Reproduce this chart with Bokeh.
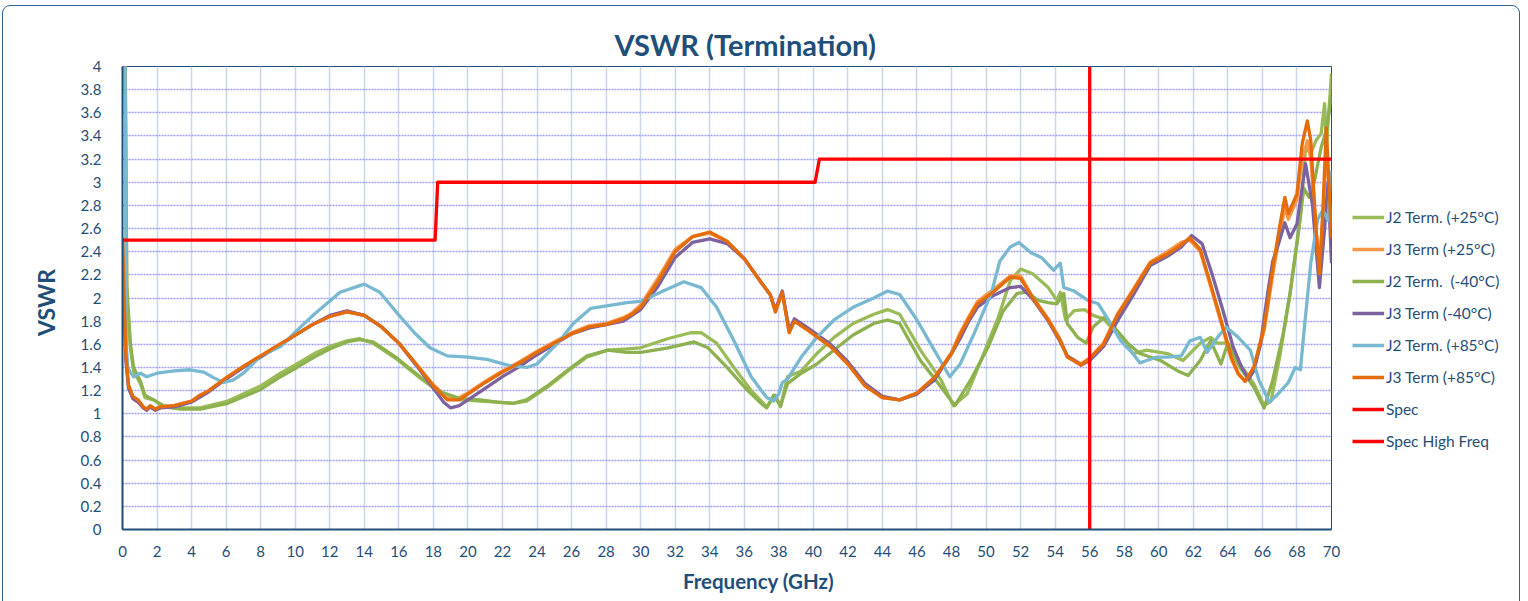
import math
from bokeh.plotting import figure
from bokeh.layouts import row, column
from bokeh.models import (Legend, LegendItem, FixedTicker, NumeralTickFormatter,
                          Range1d, Label)
from bokeh.embed import file_html
from bokeh.resources import INLINE

# ---------------- data ----------------
OR_F = [0, 0.1, 0.2, 0.35, 0.6, 0.9, 1.2, 1.4, 1.6, 1.9,
        2.2, 3, 4, 4.5, 5, 6, 7, 8, 9, 10,
        11, 12, 13, 14, 15, 16, 17, 18, 18.8, 19.5,
        20, 21, 22, 23, 24, 25, 26, 27, 28, 29,
        29.5, 30, 31, 32, 33, 34, 35, 36, 37, 37.5,
        37.8, 38.2, 38.6, 38.9, 39.7, 41, 42, 43, 44, 45,
        46, 47, 48, 48.5, 49, 49.5, 50.4, 51.4, 52, 52.7,
        53.6, 54.3, 54.7, 55.5, 56, 56.8, 57.6, 58.5, 59.5, 60.5,
        61.3, 61.8, 62.4, 63, 63.6, 64.2, 64.6, 65, 65.5, 66.1,
        66.6, 67, 67.3, 67.5, 68, 68.3, 68.6, 68.8, 69.1, 69.3,
        69.5, 69.7, 70]
J3_85 = [2.52, 2.0, 1.5, 1.25, 1.15, 1.12, 1.06, 1.04, 1.07, 1.04,
         1.06, 1.07, 1.11, 1.16, 1.2, 1.31, 1.41, 1.5, 1.59, 1.68,
         1.77, 1.84, 1.88, 1.85, 1.75, 1.61, 1.43, 1.24, 1.12, 1.12,
         1.17, 1.27, 1.36, 1.44, 1.53, 1.61, 1.69, 1.75, 1.77, 1.82,
         1.86, 1.92, 2.14, 2.4, 2.53, 2.57, 2.49, 2.34, 2.13, 2.03,
         1.88, 2.05, 1.70, 1.80, 1.72, 1.58, 1.43, 1.24, 1.14, 1.12,
         1.18, 1.31, 1.52, 1.68, 1.82, 1.95, 2.05, 2.18, 2.17, 2.0,
         1.81, 1.63, 1.49, 1.42, 1.48, 1.6, 1.85, 2.06, 2.3, 2.38,
         2.46, 2.52, 2.42, 2.12, 1.81, 1.49, 1.35, 1.28, 1.4, 1.75,
         2.26, 2.62, 2.87, 2.73, 2.9, 3.33, 3.53, 3.36, 2.61, 2.21,
         2.76, 3.47, 2.52]
J3_25 = [2.5, 1.95, 1.48, 1.24, 1.14, 1.11, 1.06, 1.04, 1.06, 1.04,
         1.06, 1.07, 1.11, 1.16, 1.2, 1.31, 1.41, 1.5, 1.59, 1.68,
         1.77, 1.84, 1.88, 1.85, 1.75, 1.61, 1.43, 1.25, 1.14, 1.14,
         1.18, 1.28, 1.37, 1.45, 1.54, 1.62, 1.70, 1.76, 1.78, 1.83,
         1.87, 1.94, 2.17, 2.42, 2.53, 2.56, 2.49, 2.34, 2.13, 2.03,
         1.88, 2.05, 1.71, 1.80, 1.72, 1.58, 1.43, 1.24, 1.14, 1.12,
         1.18, 1.31, 1.53, 1.70, 1.84, 1.97, 2.07, 2.19, 2.19, 2.01,
         1.82, 1.64, 1.50, 1.43, 1.48, 1.61, 1.86, 2.07, 2.31, 2.40,
         2.48, 2.50, 2.40, 2.10, 1.79, 1.47, 1.34, 1.28, 1.38, 1.72,
         2.2, 2.55, 2.78, 2.68, 2.85, 3.2, 3.36, 3.2, 2.6, 2.25,
         2.7, 3.3, 2.6]

PU_F = [0, 0.1, 0.2, 0.35, 0.6, 0.9, 1.2, 1.4, 1.6, 1.9,
        2.2, 3, 4, 5, 6, 7, 8, 9, 10, 11,
        12, 13, 14, 15, 16, 17, 18, 18.6, 19, 19.5,
        20, 21, 22, 23, 24, 25, 26, 27, 28, 29,
        30, 31, 32, 33, 34, 35, 36, 37, 37.5, 37.8,
        38.2, 38.6, 38.9, 39.7, 41, 42, 43, 44, 45, 46,
        47, 48, 48.5, 49, 49.5, 50.4, 51.4, 52, 52.7, 53.6,
        54.3, 54.7, 55.5, 56, 56.8, 57.6, 58.5, 59.5, 60.5, 61.3,
        61.9, 62.5, 63.1, 63.7, 64.3, 64.8, 65.2, 65.5, 65.9, 66.3,
        66.6, 67, 67.3, 67.6, 68, 68.5, 68.9, 69.3, 69.6, 69.8,
        70]
J3_M40 = [2.35, 1.9, 1.45, 1.22, 1.13, 1.10, 1.05, 1.03, 1.06, 1.03,
          1.05, 1.06, 1.1, 1.19, 1.3, 1.4, 1.49, 1.58, 1.68, 1.77,
          1.85, 1.89, 1.85, 1.75, 1.61, 1.42, 1.22, 1.1, 1.05, 1.07,
          1.12, 1.22, 1.32, 1.41, 1.51, 1.6, 1.69, 1.74, 1.77, 1.8,
          1.9, 2.1, 2.35, 2.48, 2.51, 2.47, 2.34, 2.13, 2.03, 1.9,
          2.06, 1.72, 1.82, 1.74, 1.6, 1.45, 1.26, 1.15, 1.12, 1.17,
          1.29, 1.52, 1.65, 1.8, 1.92, 2.02, 2.09, 2.1, 1.99, 1.8,
          1.62, 1.5, 1.42, 1.46, 1.58, 1.8, 2.02, 2.28, 2.36, 2.44,
          2.54, 2.47, 2.2, 1.9, 1.58, 1.4, 1.3, 1.37, 1.61, 2.04,
          2.32, 2.5, 2.65, 2.52, 2.64, 3.16, 2.8, 2.09, 2.6, 3.0,
          2.3]

LB_F = [0, 0.1, 0.17, 0.22, 0.3, 0.45, 0.64, 1.04, 1.4, 2,
        3, 3.9, 4.7, 5.3, 5.85, 6.4, 7, 8, 9.15, 10.1,
        11.1, 12.6, 14, 14.9, 15.9, 16.9, 17.8, 18.8, 20, 21.1,
        22.3, 23.4, 24, 25.2, 26.1, 27.1, 28.4, 29.2, 30, 31.15,
        32.5, 33.5, 34.4, 35.4, 36.4, 37.3, 37.7, 38.0, 38.2, 38.5,
        39.3, 40.2, 41.2, 42.3, 43.5, 44.3, 45, 46, 47, 47.9,
        48.5, 49.3, 50.3, 50.8, 51.4, 51.9, 52.6, 53.2, 53.9, 54.3,
        54.5, 55.1, 55.9, 56.5, 57, 57.8, 58.5, 58.9, 59.3, 59.9,
        60.5, 61.3, 61.8, 62.4, 62.8, 63.4, 63.9, 64.6, 65.3, 65.8,
        66.4, 66.9, 67.5, 67.9, 68.2, 68.4, 68.8, 69.2, 69.5, 69.8,
        70]
J2_85 = [6.0, 5.0, 3.5, 1.6, 1.4, 1.36, 1.32, 1.35, 1.32, 1.35,
         1.37, 1.38, 1.36, 1.31, 1.27, 1.29, 1.35, 1.5, 1.58, 1.72,
         1.86, 2.05, 2.12, 2.05, 1.87, 1.7, 1.57, 1.50, 1.49, 1.47,
         1.42, 1.40, 1.43, 1.61, 1.78, 1.91, 1.94, 1.96, 1.97, 2.05,
         2.14, 2.09, 1.92, 1.63, 1.32, 1.14, 1.11, 1.17, 1.27, 1.30,
         1.49, 1.66, 1.81, 1.92, 2.0, 2.06, 2.03, 1.81, 1.55, 1.32,
         1.43, 1.69, 2.04, 2.32, 2.44, 2.48, 2.39, 2.35, 2.24, 2.30,
         2.09, 2.06, 1.98, 1.95, 1.83, 1.63, 1.52, 1.44, 1.46, 1.49,
         1.49, 1.50, 1.63, 1.66, 1.53, 1.66, 1.75, 1.66, 1.55, 1.29,
         1.10, 1.17, 1.27, 1.40, 1.38, 1.70, 2.30, 2.68, 2.76, 2.67,
         3.1]

G1_F = [0, 0.08, 0.15, 0.25, 0.46, 0.64, 1.04, 1.3, 1.8, 2.4,
        3.4, 4.5, 6.1, 8, 9.15, 10.1, 11.1, 12, 13, 13.7,
        14.5, 15.9, 17.3, 18.4, 19.6, 20.7, 21.7, 22.6, 23.4, 24.6,
        25.8, 26.9, 28.1, 29.2, 30, 31.6, 32.9, 33.5, 34.4, 35.4,
        36.4, 37.3, 37.8, 38.1, 38.5, 39.3, 40.2, 41.2, 42.3, 43.5,
        44.3, 45, 46.2, 47.4, 48.1, 48.9, 49.7, 50.7, 51.4, 52,
        52.7, 53.6, 54.1, 54.3, 54.6, 55.1, 55.7, 56.2, 56.8, 57.8,
        58.5, 59.3, 60.5, 61.4, 62.4, 63, 63.4, 64, 64.7, 65.5,
        66.1, 66.5, 67, 67.6, 68.2, 68.5, 68.8, 69.1, 69.4, 69.6,
        69.7, 70]
J2_25 = [6, 5, 4.2, 2.0, 1.57, 1.37, 1.26, 1.14, 1.12, 1.07,
         1.05, 1.05, 1.11, 1.24, 1.35, 1.43, 1.52, 1.58, 1.63, 1.65,
         1.61, 1.47, 1.30, 1.18, 1.12, 1.11, 1.10, 1.09, 1.11, 1.23,
         1.37, 1.49, 1.55, 1.56, 1.57, 1.65, 1.70, 1.70, 1.61, 1.40,
         1.20, 1.06, 1.16, 1.06, 1.32, 1.37, 1.52, 1.66, 1.78, 1.86,
         1.90, 1.86, 1.55, 1.29, 1.07, 1.17, 1.46, 1.83, 2.15, 2.25,
         2.21, 2.09, 1.98, 2.05, 1.81, 1.89, 1.90, 1.85, 1.82, 1.66,
         1.52, 1.55, 1.52, 1.46, 1.61, 1.66, 1.61, 1.61, 1.43, 1.26,
         1.07, 1.11, 1.49, 2.04, 2.70, 3.30, 3.25, 3.36, 3.42, 3.68,
         3.30, 3.94]

G2_F = [0, 0.08, 0.15, 0.25, 0.46, 0.64, 1.04, 1.3, 1.8, 2.4,
        3.4, 4.5, 6.1, 8, 9.15, 10.1, 11.1, 12, 13, 13.7,
        14.5, 15.9, 17.3, 18.4, 19.6, 20.7, 21.7, 22.6, 23.4, 24.6,
        25.8, 26.9, 28.1, 29.2, 30, 31.6, 33.1, 33.9, 35, 36.2,
        36.9, 37.3, 37.7, 38.1, 38.5, 39.3, 40.2, 41.2, 42.3, 43.5,
        44.3, 45, 46.2, 47.4, 48.2, 49.1, 50.1, 51, 51.8, 52.4,
        53, 53.6, 54.1, 54.5, 54.7, 55.3, 55.8, 56.2, 56.8, 57.4,
        58.2, 58.9, 60.1, 61.1, 61.7, 62.4, 63, 63.6, 64, 64.7,
        65.5, 66.1, 66.6, 67.2, 67.6, 68, 68.4, 68.7, 69, 69.4,
        69.7, 70]
J2_M40 = [6, 5, 4.2, 2.1, 1.6, 1.4, 1.28, 1.16, 1.12, 1.06,
          1.04, 1.04, 1.09, 1.21, 1.32, 1.40, 1.49, 1.56, 1.62, 1.64,
          1.62, 1.48, 1.31, 1.19, 1.13, 1.12, 1.10, 1.09, 1.12, 1.24,
          1.38, 1.50, 1.55, 1.53, 1.53, 1.57, 1.62, 1.57, 1.40, 1.20,
          1.10, 1.05, 1.16, 1.07, 1.26, 1.35, 1.43, 1.55, 1.68, 1.78,
          1.81, 1.78, 1.46, 1.23, 1.07, 1.29, 1.57, 1.89, 2.04, 2.05,
          1.98, 1.96, 1.95, 2.04, 1.78, 1.66, 1.61, 1.75, 1.83, 1.75,
          1.61, 1.52, 1.46, 1.37, 1.33, 1.46, 1.63, 1.43, 1.61, 1.40,
          1.23, 1.05, 1.29, 1.69, 2.04, 2.47, 2.95, 2.87, 3.0, 3.3,
          3.45, 3.75]

SPEC_F = [0, 18.1, 18.25, 40.1, 40.35, 70]
SPEC_V = [2.5, 2.5, 3.0, 3.0, 3.2, 3.2]
HF_F = [56, 56]
HF_V = [0, 4]

X_TICKS = list(range(0, 71, 2))
Y_TICKS = [round(i * 0.2, 1) for i in range(21)]

TITLE = "VSWR (Termination)"
X_LABEL = "Frequency (GHz)"
Y_LABEL = "VSWR"

SERIES = [
    ("J2 Term. (+25°C)", G1_F, J2_25, "#9bbb59"),
    ("J3 Term (+25°C)", OR_F, J3_25, "#f79646"),
    ("J2 Term.  (-40°C)", G2_F, J2_M40, "#8db14f"),
    ("J3 Term (-40°C)", PU_F, J3_M40, "#7d62a0"),
    ("J2 Term. (+85°C)", LB_F, J2_85, "#78b8d0"),
    ("J3 Term (+85°C)", OR_F, J3_85, "#e46c0a"),
    ("Spec", SPEC_F, SPEC_V, "#ff0000"),
    ("Spec High Freq", HF_F, HF_V, "#ff0000"),
]
for name, xs, ys, _ in SERIES:
    assert len(xs) == len(ys), (name, len(xs), len(ys))

TXT = "#1f4e79"
FONT = "Lato"
LW = 3.3

# layout (pixels): [y-label strip 70] [main plot 1273] [legend strip 185]
LEFT_W, MAIN_W, LEG_W = 70, 1273, 185
TOP_H, BOT_H = 561, 40


def blank(width, height, xr=(0, 1)):
    f = figure(width=width, height=height, output_backend="svg",
               toolbar_location=None, x_range=Range1d(*xr), y_range=Range1d(0, 1),
               x_axis_type=None, y_axis_type=None, min_border=0,
               background_fill_color="white", border_fill_color="white")
    f.outline_line_color = None
    f.grid.visible = False
    return f


# ---------------- main plot ----------------
p = figure(width=MAIN_W, height=TOP_H, output_backend="svg", toolbar_location=None,
           x_range=Range1d(0, 70), y_range=Range1d(0, 4),
           min_border_left=52, min_border_right=12, min_border_top=66,
           min_border_bottom=32, background_fill_color="white",
           border_fill_color="white")

p.title.text = TITLE
p.title.align = "left"
p.title.offset = 492
p.title.standoff = 9
p.title.text_font = FONT
p.title.text_font_size = "29px"
p.title.text_font_style = "bold"
p.title.text_color = TXT

p.outline_line_color = TXT
p.outline_line_width = 1

p.xaxis.ticker = FixedTicker(ticks=X_TICKS)
p.yaxis.ticker = FixedTicker(ticks=Y_TICKS)
p.yaxis.formatter = NumeralTickFormatter(format="0.[0]")
for ax in (p.xaxis[0], p.yaxis[0]):
    ax.axis_line_color = TXT
    ax.axis_line_width = 2
    ax.major_tick_line_color = None
    ax.minor_tick_line_color = None
    ax.major_label_text_font = FONT
    ax.major_label_text_font_size = "15px"
    ax.major_label_text_color = TXT
p.xaxis.major_label_standoff = 10
p.yaxis.major_label_standoff = 15

p.xgrid.grid_line_color = "#c9d6ec"
p.xgrid.grid_line_width = 1.5
p.ygrid.grid_line_color = "#9d9df2"
p.ygrid.grid_line_width = 1.3
p.ygrid.grid_line_dash = "2 1"

for name, xs, ys, col in SERIES:
    p.line(xs, ys, line_color=col, line_width=LW, line_join="round")

# ---------------- legend strip ----------------
pl = blank(LEG_W, TOP_H, xr=(1000, 1001))   # its own copies of the lines stay off-view
items = []
for name, xs, ys, col in SERIES:
    r = pl.line(xs, ys, line_color=col, line_width=LW)
    items.append(LegendItem(label=name, renderers=[r]))
legend = Legend(items=items, location=(9, 78), padding=0, margin=0,
                border_line_color=None, background_fill_alpha=0,
                glyph_width=32, glyph_height=20, label_height=20,
                spacing=12, label_standoff=2,
                label_text_font=FONT, label_text_font_size="15.5px",
                label_text_color=TXT)
pl.add_layout(legend, "center")

# ---------------- y-label strip ----------------
py = blank(LEFT_W, TOP_H)
py.add_layout(Label(x=45, y=TOP_H - 334, x_units="screen", y_units="screen",
                    text=Y_LABEL, angle=math.pi / 2, text_font=FONT,
                    text_font_size="23px", text_font_style="bold",
                    text_color=TXT, text_align="center", text_baseline="middle"))

# ---------------- x-label strip ----------------
px = blank(LEFT_W + MAIN_W + LEG_W, BOT_H)
px.add_layout(Label(x=758, y=BOT_H - 19, x_units="screen", y_units="screen",
                    text=X_LABEL, text_font=FONT, text_font_size="20.5px",
                    text_font_style="bold", text_color=TXT,
                    text_align="center", text_baseline="middle"))

layout = column(row(py, p, pl, spacing=0), px, spacing=0)

BORDER_CSS = ("{% block preamble %}<style>body::after{content:'';position:fixed;"
              "left:2px;top:5px;width:1518px;height:660px;box-sizing:border-box;"
              "border:1.5px solid #2c6496;border-radius:8px;pointer-events:none;"
              "z-index:10;}</style>{% endblock %}")

open("out.html", "w").write(file_html(layout, INLINE, template=BORDER_CSS))
